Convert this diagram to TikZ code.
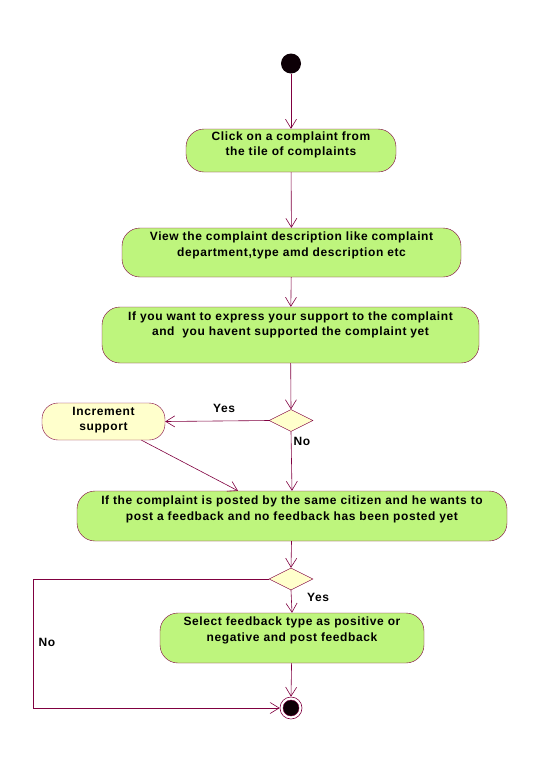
\documentclass[tikz,border=0pt]{standalone}
\usepackage{fontspec}
\setmainfont{Liberation Sans}[LetterSpace=5]
\usetikzlibrary{shapes.geometric,arrows.meta}
\definecolor{lnc}{RGB}{128,0,64}
\definecolor{actfill}{RGB}{190,245,125}
\definecolor{decfill}{RGB}{255,255,204}
\tikzset{
  x=1pt,y=-1pt,
  act/.style={draw=lnc,fill=actfill,rounded corners=18pt,inner sep=0pt},
  inc/.style={draw=lnc,fill=decfill,rounded corners=16pt,inner sep=0pt},
  txt/.style={font=\bfseries\fontsize{12}{15.5}\selectfont,align=center,inner sep=0pt},
  lbl/.style={font=\bfseries\fontsize{12}{13}\selectfont,inner sep=0pt},
  dec/.style={diamond,draw=lnc,fill=decfill,minimum width=44pt,minimum height=22pt,inner sep=0pt},
  flow/.style={draw=lnc,line width=0.6pt,-{Straight Barb[length=9pt,width=11pt,line width=0.6pt]}},
}
\begin{document}
\begin{tikzpicture}
\useasboundingbox[fill=white] (0,0) rectangle (536,761);
\node[circle,fill=black!90!lnc,minimum size=20pt,inner sep=0pt] (start) at (291,63.5) {};
\node[act,minimum width=210pt,minimum height=43pt] (b1) at (291,150.5) {};
\node[txt] (b1t) at (291,145) {Click on a complaint from\\the tile of complaints};
\node[act,minimum width=339pt,minimum height=49pt] (b2) at (291.5,252.5) {};
\node[txt] (b2t) at (291.5,245.5) {View the complaint description like complaint\\department,type amd description etc};
\node[act,minimum width=377pt,minimum height=56pt] (b3) at (290.5,335) {};
\node[txt] (b3t) at (290.5,325) {If you want to express your support to the complaint\\and \ you havent supported the complaint yet};
\node[dec] (d1) at (291,420.5) {};
\node[inc,minimum width=123pt,minimum height=37pt] (inc) at (103.5,421.5) {};
\node[txt] (inct) at (103.5,420) {Increment\\support};
\node[act,minimum width=430pt,minimum height=50pt] (b4) at (292,516) {};
\node[txt] (b4t) at (292,509.5) {If the complaint is posted by the same citizen and he wants to\\post a feedback and no feedback has been posted yet};
\node[dec] (d2) at (291,579) {};
\node[act,minimum width=264pt,minimum height=50pt] (b5) at (292,638) {};
\node[txt] (b5t) at (292,630.5) {Select feedback type as positive or\\negative and post feedback};
\node[circle,draw=lnc,line width=0.6pt,minimum size=22pt,inner sep=0pt] (fin) at (291,708) {};
\node[circle,draw=lnc,fill=black!90!lnc,minimum size=16pt,inner sep=0pt] (finin) at (fin.center) {};
\coordinate (corner) at (33,579);
\path[flow] (start) -- (b1);
\path[flow] (b1) -- (b2);
\path[flow] (b2) -- (b3);
\path[flow] (b3) -- (d1.north);
\path[flow] (d1.west) -- (inc.east);
\path[flow] (d1.south) -- (b4.north);
\path[flow] ([xshift=38pt]inc.south) -- ([xshift=-54pt]b4.north);
\path[flow] (b4) -- (d2.north);
\path[flow] (d2.south) -- (b5.north);
\path[flow] (b5) -- (fin.north);
\path[flow] (d2.west) -- (corner) |- (fin.west);
\node[lbl] (yes1) at (224,408) {Yes};
\node[lbl] (no1) at (302,441) {No};
\node[lbl] (yes2) at (318,597) {Yes};
\node[lbl] (no2) at (47,642) {No};
\end{tikzpicture}
\end{document}
